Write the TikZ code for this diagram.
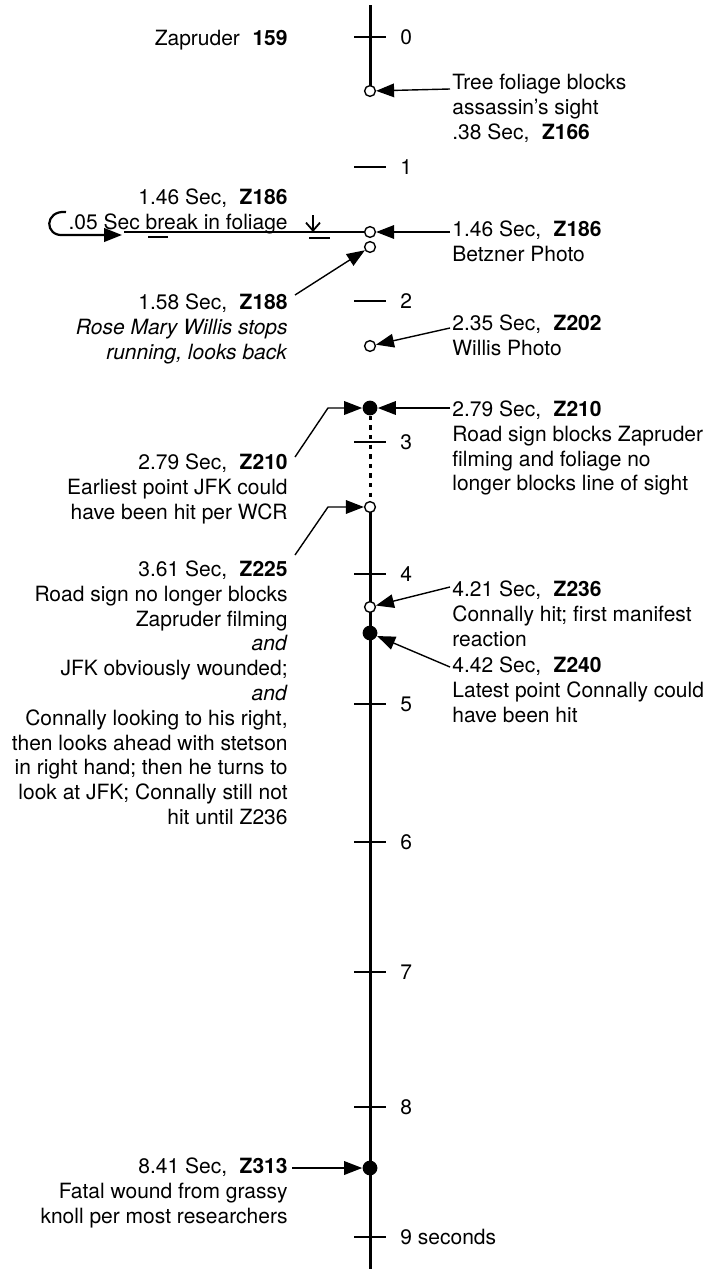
\documentclass[tikz,border=0pt]{standalone}
\usepackage{fontspec}
\setmainfont{TeX Gyre Heros}
\usetikzlibrary{arrows.meta,calc}
\pgfdeclarelayer{background}
\pgfsetlayers{background,main}
\newcommand{\firstln}{\rule{0pt}{8pt}}
\newcommand{\gp}{\hspace{0.6em}}
\begin{document}
\begin{tikzpicture}[x=0.5pt,y=-0.5pt,
  txt/.style={font=\fontsize{10.5}{12.4}\selectfont, inner sep=0pt},
  lbl/.style={txt, align=right, anchor=north east},
  rbl/.style={txt, align=left, anchor=north west},
  tlb/.style={txt, anchor=west},
  oc/.style={circle, draw, fill=white, inner sep=0pt, minimum size=5.4pt, line width=0.7pt},
  fc/.style={circle, fill=black, inner sep=0pt, minimum size=7.4pt},
  arr/.style={line width=0.7pt, -{Triangle[length=9pt,width=6.8pt]}},
  axisline/.style={line width=1.5pt},
  tickline/.style={line width=0.8pt},
  dotline/.style={line width=1.5pt, dash pattern=on 2.2pt off 2.6pt},
  barline/.style={line width=1pt}
]
\useasboundingbox (0,0) rectangle (713,1269);

% points on the axis
\node[oc] (c166) at (370,91) {};
\node[oc] (c186) at (370,232) {};
\node[oc] (c188) at (370,247) {};
\node[oc] (c202) at (370,346) {};
\node[fc] (d210) at (370,408) {};
\node[oc] (c225) at (370,507) {};
\node[oc] (c236) at (370,607) {};
\node[fc] (d240) at (370,633) {};
\node[fc] (d313) at (370,1168) {};
\coordinate (top) at (370,5);
\coordinate (bot) at (370,1269);

\begin{pgfonlayer}{background}
\draw[axisline] (top) -- (c166.center);
\draw[dotline] (d210) -- (c225);
\draw[axisline] (c225.center) -- (bot);
% ticks
\foreach \yy in {37,167,301,442,574,704,842,972,1107,1237}
  \draw[tickline] (354,\yy) -- (386,\yy);
\end{pgfonlayer}

% tick labels
\node[tlb] (t0) at (400,37) {0};
\node[tlb] (t1) at (400,167) {1};
\node[tlb] (t2) at (400,301) {2};
\node[tlb] (t3) at (400,442) {3};
\node[tlb] (t4) at (400,574) {4};
\node[tlb] (t5) at (400,704) {5};
\node[tlb] (t6) at (400,842) {6};
\node[tlb] (t7) at (400,972) {7};
\node[tlb] (t8) at (400,1107) {8};
\node[tlb] (t9) at (400,1237) {9 seconds};

% left texts
\node[lbl] (zap) at (288,29) {\firstln Zapruder\gp\textbf{159}};
\node[lbl] (l186) at (288,188) {\firstln 1.46 Sec,\gp\textbf{Z186}\\.05 Sec break in foliage};
\node[lbl] (l188) at (288,293) {\firstln 1.58 Sec,\gp\textbf{Z188}\\\textit{Rose Mary Willis stops}\\\textit{running, looks back}};
\node[lbl] (l210) at (288,453) {\firstln 2.79 Sec,\gp\textbf{Z210}\\Earliest point JFK could\\have been hit per WCR};
\node[lbl] (l225) at (288,560) {\firstln 3.61 Sec,\gp\textbf{Z225}\\Road sign no longer blocks\\Zapruder filming\\\textit{and}\\JFK obviously wounded;\\\textit{and}\\Connally looking to his right,\\then looks ahead with stetson\\in right hand; then he turns to\\look at JFK; Connally still not\\hit until Z236};
\node[lbl] (l313) at (288,1157) {\firstln 8.41 Sec,\gp\textbf{Z313}\\Fatal wound from grassy\\knoll per most researchers};

% right texts
\node[rbl] (r166) at (452,73) {\firstln Tree foliage blocks\\assassin's sight\\.38 Sec,\gp\textbf{Z166}};
\node[rbl] (r186) at (452,220) {\firstln 1.46 Sec,\gp\textbf{Z186}\\Betzner Photo};
\node[rbl] (r202) at (452,314) {\firstln 2.35 Sec,\gp\textbf{Z202}\\Willis Photo};
\node[rbl] (r210) at (452,400) {\firstln 2.79 Sec,\gp\textbf{Z210}\\Road sign blocks Zapruder\\filming and foliage no\\longer blocks line of sight};
\node[rbl] (r236) at (452,580) {\firstln 4.21 Sec,\gp\textbf{Z236}\\Connally hit; first manifest\\reaction};
\node[rbl] (r240) at (452,656) {\firstln 4.42 Sec,\gp\textbf{Z240}\\Latest point Connally could\\have been hit};

% connectors
\draw[arr] ($(r166.west |- c166)+(-2,-2)$) -- (c166);
\draw[arr] ($(r186.west |- c186)+(-2,0)$) -- (c186);
\draw[arr] ($(l188.north east)+(7,2)$) -- (c188);
\draw[arr] ($(r202.north west)+(-2,14)$) -- (c202);
\draw[arr] ($(r210.west |- d210)+(-2,0)$) -- (d210);
\draw[arr] ($(l210.north east)+(7,4)$) -- ($(d210)+(-42,0)$) -- (d210);
\draw[arr] ($(l225.north east)+(7,-5)$) -- ($(c225)+(-42,0)$) -- (c225);
\draw[arr] ($(r236.north west)+(-2,7)$) -- (c236);
\draw[arr] ($(r240.north west)+(-2,11)$) -- (d240);
\draw[arr] ($(l313.east |- d313)+(4,0)$) -- (d313);

% foliage break marks
\coordinate (ls) at (66,212);
\coordinate (le) at (122,235);
\coordinate (fl) at (124,232);
\coordinate (da) at (313,215);
\coordinate (db) at (313,232);
\draw[arr, line width=1.1pt] (ls) .. controls (44,210) and (44,237) .. (64,235) -- (le);
\draw[line width=0.7pt] (fl) -- (c186);
\draw[barline] (148,237) -- (168,237);
\draw[barline] (309,238) -- (330,238);
\draw[line width=0.9pt, -{Straight Barb[length=4pt,width=7pt]}] (da) -- (db);
\end{tikzpicture}
\end{document}
